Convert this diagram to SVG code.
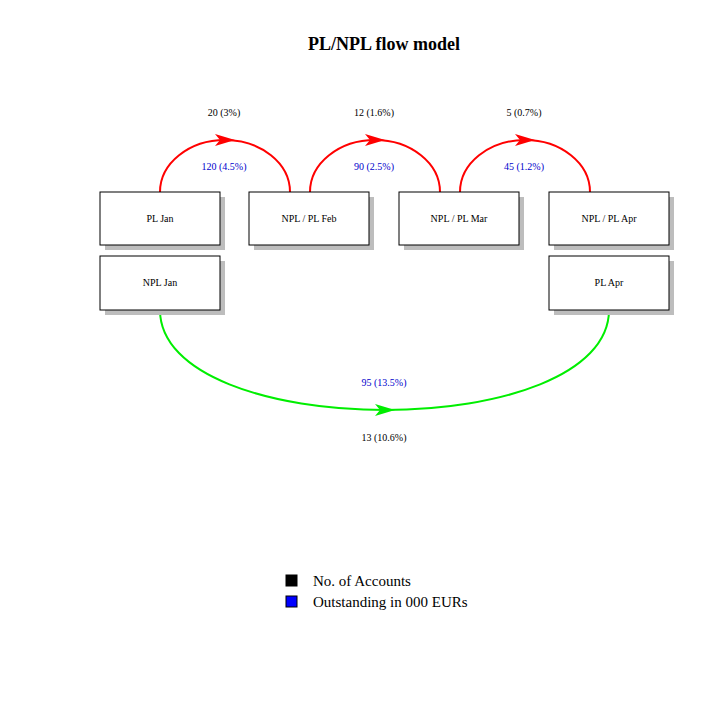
<svg xmlns="http://www.w3.org/2000/svg" width="728" height="728" viewBox="0 0 728 728">
<defs>
<marker id="ar" viewBox="0 0 10 10" refX="5" refY="5" markerWidth="7" markerHeight="7" markerUnits="userSpaceOnUse" orient="auto"><path d="M0,0 L10,5 L0,10 L3,5 z" fill="#ff0000"/></marker>
<style>
.b{fill:#fff;stroke:#000;stroke-width:1}
.s{fill:#bdbdbd}
.t{font-family:"Liberation Serif",serif;font-size:10px;text-anchor:middle}
.n{font-family:"Liberation Serif",serif;font-size:10px;text-anchor:middle;fill:#000}
.o{font-family:"Liberation Serif",serif;font-size:10px;text-anchor:middle;fill:#0000cc}
.r{fill:none;stroke:#ff0000;stroke-width:2}
.g{fill:none;stroke:#00ee00;stroke-width:2}
</style>
</defs>
<rect width="728" height="728" fill="#fff"/>
<text x="384" y="50" font-family="Liberation Serif,serif" font-size="18" font-weight="bold" text-anchor="middle">PL/NPL flow model</text>
<g id="connectors">
<path class="r" d="M160,192 A65,52 0 0 1 290,192"/>
<path class="r" d="M310,192 A65,52 0 0 1 440,192"/>
<path class="r" d="M460,192 A65,52 0 0 1 590,192"/>
<path d="M215,134 L235,140 L215,146 L220,140 z" fill="#ff0000"/>
<path d="M365,134 L385,140 L365,146 L370,140 z" fill="#ff0000"/>
<path d="M515,134 L535,140 L515,146 L520,140 z" fill="#ff0000"/>
<path class="g" d="M160,310 C160,375 270,410 385,410 C500,410 609,375 609,310"/>
<path d="M375,404 L395,410 L375,416 L380,410 z" fill="#00ee00"/>
</g>
<g id="labels">
<text class="n" x="224" y="116">20 (3%)</text>
<text class="o" x="224" y="170">120 (4.5%)</text>
<text class="n" x="374" y="116">12 (1.6%)</text>
<text class="o" x="374" y="170">90 (2.5%)</text>
<text class="n" x="524" y="116">5 (0.7%)</text>
<text class="o" x="524" y="170">45 (1.2%)</text>
<text class="o" x="384" y="386">95 (13.5%)</text>
<text class="n" x="384" y="441">13 (10.6%)</text>
</g>
<g id="pljan"><rect class="s" x="105" y="197" width="120" height="53"/><rect class="b" x="100" y="192" width="120" height="53"/><text class="t" x="160" y="222">PL Jan</text></g>
<g id="feb"><rect class="s" x="254" y="197" width="120" height="53"/><rect class="b" x="249" y="192" width="120" height="53"/><text class="t" x="309" y="222">NPL / PL Feb</text></g>
<g id="mar"><rect class="s" x="404" y="197" width="120" height="53"/><rect class="b" x="399" y="192" width="120" height="53"/><text class="t" x="459" y="222">NPL / PL Mar</text></g>
<g id="apr"><rect class="s" x="554" y="197" width="120" height="53"/><rect class="b" x="549" y="192" width="120" height="53"/><text class="t" x="609" y="222">NPL / PL Apr</text></g>
<g id="npljan"><rect class="s" x="105" y="261" width="120" height="54"/><rect class="b" x="100" y="256" width="120" height="54"/><text class="t" x="160" y="286">NPL Jan</text></g>
<g id="plapr"><rect class="s" x="554" y="261" width="120" height="54"/><rect class="b" x="549" y="256" width="120" height="54"/><text class="t" x="609" y="286">PL Apr</text></g>
<g id="legend">
<rect x="286" y="575" width="11" height="11" fill="#000" stroke="#000"/>
<text x="313" y="586" font-family="Liberation Serif,serif" font-size="15">No. of Accounts</text>
<rect x="286" y="596" width="11" height="11" fill="#0000ff" stroke="#000"/>
<text x="313" y="607" font-family="Liberation Serif,serif" font-size="15">Outstanding in 000 EURs</text>
</g>
</svg>
